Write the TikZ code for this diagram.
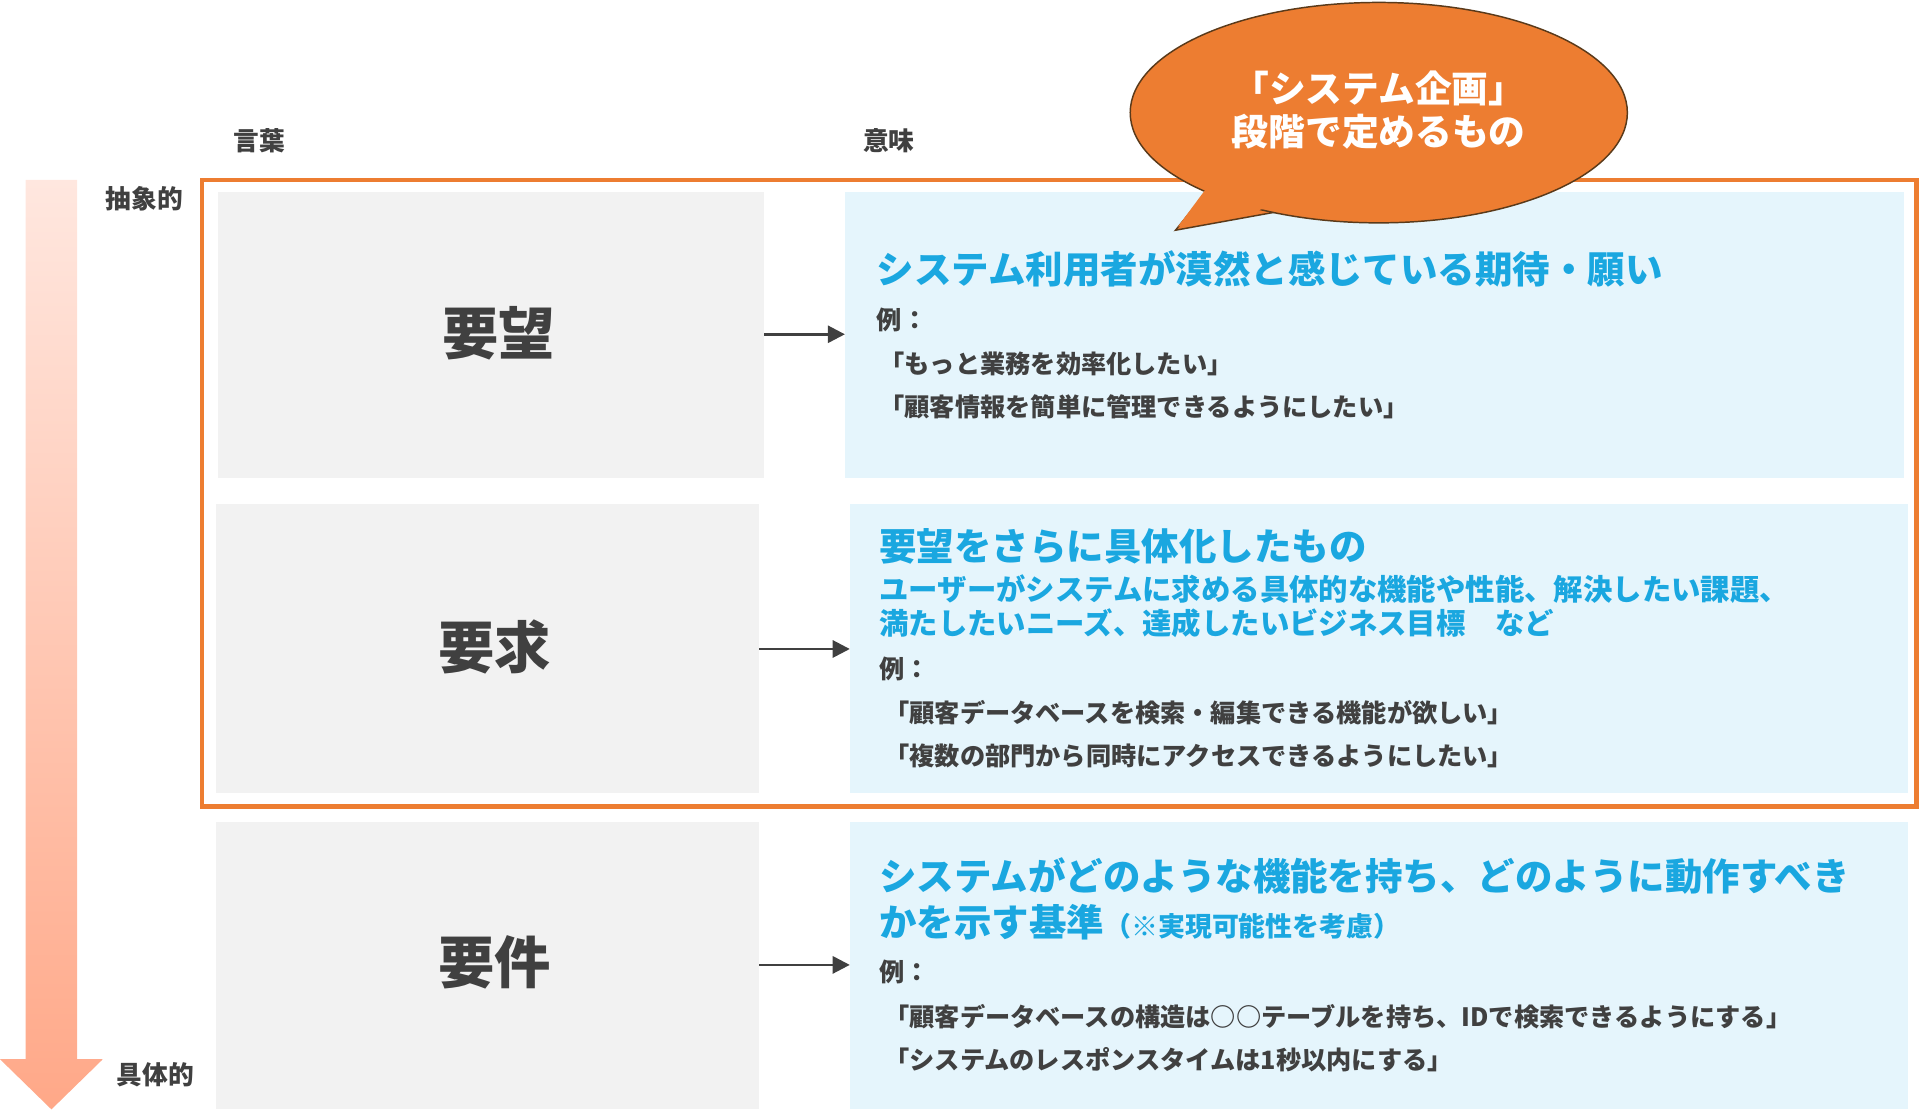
\documentclass[tikz,border=0pt]{standalone}
\usepackage{fontspec}
\setmainfont{Noto Sans CJK JP}
\usetikzlibrary{arrows.meta}
\definecolor{org}{HTML}{ED7D31}
\definecolor{brn}{HTML}{5A3A1A}
\definecolor{gry}{HTML}{F2F2F2}
\definecolor{lbl}{HTML}{E5F5FC}
\definecolor{cyn}{HTML}{1AA7E0}
\definecolor{dk}{HTML}{404040}
\definecolor{gtop}{HTML}{FFE7DF}
\definecolor{gbot}{HTML}{FFA888}
\begin{document}
\begin{tikzpicture}[x=1pt,y=-1pt,
  fs/.style={font=\fontsize{#1}{#1}\selectfont\bfseries},
  hdr/.style={fs=21,text=dk,anchor=center},
  word/.style={fs=46,text=dk},
  ttl/.style={fs=30.6,text=cyn,anchor=west,inner sep=0},
  sub/.style={fs=24,text=cyn,anchor=west,inner sep=0},
  ex/.style={fs=20.6,text=dk,anchor=west,inner sep=0},
  lbox/.style={fill=gry,draw=none},
  rbox/.style={fill=lbl,draw=none},
  arr/.style={-{Triangle[length=14pt,width=14pt]},line width=2.2pt,draw=dk}]
\useasboundingbox (0,0) rectangle (1568,909);
% gradient arrow
\shade[top color=gtop,bottom color=gbot] (21,147) -- (63,147) -- (63,865) -- (84,865) -- (42,906) -- (0,865) -- (21,865) -- cycle;
\node[hdr] (h1) at (212,115) {言葉};
\node[hdr] (h2) at (726,115) {意味};
\node[hdr] (ab) at (118,162) {抽象的};
\node[hdr] (co) at (127,878) {具体的};
% boxes
\fill[lbox] (178,157) rectangle (624,390);
\fill[lbox] (176,412) rectangle (620,648);
\fill[lbox] (176,671) rectangle (620,906);
\fill[rbox] (690,157) rectangle (1555,390);
\fill[rbox] (694,412) rectangle (1558,648);
\fill[rbox] (694,671) rectangle (1558,906);
\node[word] (w1) at (407,272) {要望};
\node[word] (w2) at (404,528) {要求};
\node[word] (w3) at (404,786) {要件};
\coordinate (a1) at (624,273); \coordinate (b1) at (690,273);
\coordinate (a2) at (620,530); \coordinate (b2) at (694,530);
\coordinate (a3) at (620,788); \coordinate (b3) at (694,788);
\draw[arr] (a1) -- (b1);
\draw[arr] (a2) -- (b2);
\draw[arr] (a3) -- (b3);
% row texts
\node[ttl] (t1) at (716,220) {システム利用者が漠然と感じている期待・願い};
\node[ex] (e1) at (716,261) {例：};
\node[ex] (e1a) at (718,297) {「もっと業務を効率化したい」};
\node[ex] (e1b) at (718,332) {「顧客情報を簡単に管理できるようにしたい」};
\node[ttl] (t2) at (718,446) {要望をさらに具体化したもの};
\node[sub] (s2a) at (718,481) {ユーザーがシステムに求める具体的な機能や性能、解決したい課題、};
\node[sub] (s2b) at (718,509) {満たしたいニーズ、達成したいビジネス目標　など};
\node[ex] (e2) at (718,546) {例：};
\node[ex] (e2a) at (722,582) {「顧客データベースを検索・編集できる機能が欲しい」};
\node[ex] (e2b) at (722,617) {「複数の部門から同時にアクセスできるようにしたい」};
\node[ttl] (t3) at (718,715) {システムがどのような機能を持ち、どのように動作すべき};
\node[ttl] (t3b) at (718,753) {かを示す基準{\fontsize{22}{22}\selectfont（※実現可能性を考慮）}};
\node[ex] (e3) at (718,794) {例：};
\node[ex] (e3a) at (722,830) {「顧客データベースの構造は○○テーブルを持ち、IDで検索できるようにする」};
\node[ex] (e3b) at (722,865) {「システムのレスポンスタイムは1秒以内にする」};
% orange frame
\draw[org,line width=4pt] (165,147) rectangle (1565,659);
% bubble
\draw[fill=org,draw=brn,line width=1.2pt] (985,157) -- (960,188) -- (1040,173.5) -- cycle;
\draw[fill=org,draw=brn,line width=1.2pt] (1126,92) ellipse[x radius=203,y radius=90];
\fill[org] (988,150) -- (962,185) -- (1040,169) -- cycle;
\node[fs=30,text=white,align=center,inner sep=0] (bb) at (1126,90) {「システム企画」\\[5pt]段階で定めるもの};
\end{tikzpicture}
\end{document}
